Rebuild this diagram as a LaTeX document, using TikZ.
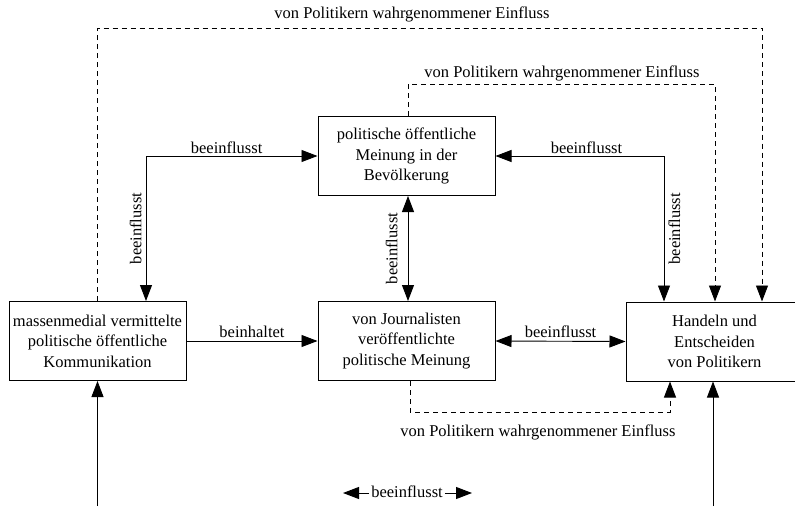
\documentclass[tikz,border=0pt]{standalone}
\usepackage{fontspec}
\setmainfont{Liberation Serif}
\usetikzlibrary{arrows.meta}
\begin{document}
\begin{tikzpicture}[x=1pt,y=-1pt,
  txt/.style={font=\fontsize{16.5}{20.5}\selectfont},
  box/.style={txt,draw,line width=1pt,minimum width=177pt,minimum height=79pt,align=center,inner sep=0pt,fill=white},
  conn/.style={line width=0.9pt,-{Triangle[length=16pt,width=12pt]}},
  dconn/.style={line width=0.9pt,{Triangle[length=16pt,width=12pt]}-{Triangle[length=16pt,width=12pt]}},
  dash line/.style={line width=0.9pt,dash pattern=on 5pt off 4pt,-{Triangle[length=16pt,width=12pt]}},
  lab/.style={txt,inner sep=2pt}]
\useasboundingbox (0,0) rectangle (795,506);
\node[box] (L) at (97.5,341) {massenmedial vermittelte\\politische öffentliche\\Kommunikation};
\node[box] (T) at (406.5,156) {politische öffentliche\\Meinung in der\\Bevölkerung};
\node[box] (B) at (406.5,341) {von Journalisten\\veröffentlichte\\politische Meinung};
\node[box] (R) at (714.5,341.5) {Handeln und\\Entscheiden\\von Politikern};
% dashed outer
\draw[dash line] (L.north) -- (L.north |- 0,28) -| ([xshift=47.5pt]R.north);
\node[lab] (d1) at (412,14) {von Politikern wahrgenommener Einfluss};
% dashed inner
\draw[dash line] ([xshift=1.5pt]T.north) -- ([xshift=1.5pt]T.north |- 0,84) -| ([xshift=0.5pt]R.north);
\node[lab] (d2) at (562,73) {von Politikern wahrgenommener Einfluss};
% dashed bottom
\draw[dash line] ([xshift=3.5pt]B.south) -- ([xshift=3.5pt]B.south |- 0,412) -| ([xshift=-44.5pt]R.south);
\node[lab] (d3) at (538,432) {von Politikern wahrgenommener Einfluss};
% left double
\draw[dconn] (T.west) -| ([xshift=48.5pt]L.north)
  node[lab,pos=0.265,above] {beeinflusst}
  node[lab,pos=0.75,rotate=90,anchor=south,yshift=2pt] {beeinflusst};
% right double
\draw[dconn] (T.east) -| ([xshift=-50.5pt]R.north)
  node[lab,pos=0.27,above] {beeinflusst}
  node[lab,pos=0.75,rotate=90,anchor=north,yshift=-2pt] {beeinflusst};
% middle vertical
\draw[dconn] ([xshift=1.5pt]T.south) -- ([xshift=1.5pt]B.north)
  node[lab,pos=0.5,rotate=90,anchor=south,yshift=8pt] {beeinflusst};
% beinhaltet
\draw[conn] (L.east) -- (B.west) node[lab,midway,above,yshift=1pt] {beinhaltet};
% B-R
\draw[dconn] (B.east) -- (R.west) node[lab,midway,above,yshift=1pt] {beeinflusst};
% bottom arrows
\coordinate (lb) at (97.5,506);
\coordinate (rb) at (713,506);
\draw[conn] (lb) -- (L.south);
\draw[conn] (rb) -- (R.south -| rb);
% legend
\node[lab] (leg) at (407,492) {beeinflusst};
\coordinate (legl) at (343,493);
\coordinate (legr) at (472,493);
\draw[conn] (leg.west |- legl) -- (legl);
\draw[conn] (leg.east |- legr) -- (legr);
\end{tikzpicture}
\end{document}
